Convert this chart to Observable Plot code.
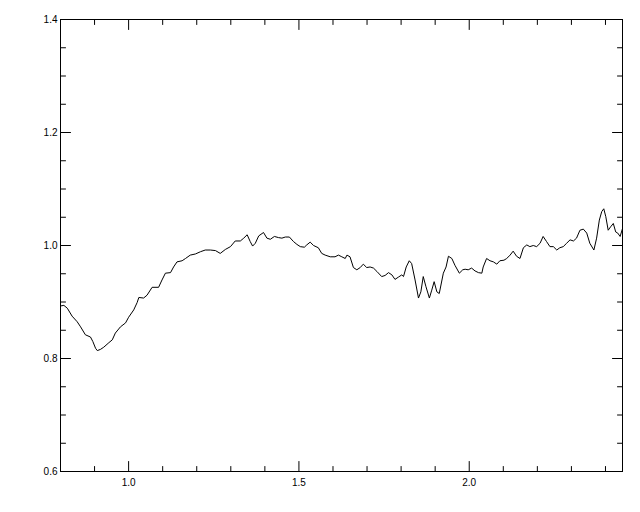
<!DOCTYPE html>
<html>
<head>
<meta charset="utf-8">
<script src="https://cdn.jsdelivr.net/npm/d3@7"></script>
<script src="https://cdn.jsdelivr.net/npm/@observablehq/plot@0.6"></script>
<style>
  html, body { margin: 0; padding: 0; background: #fff; }
  #chart svg { display: block; }
</style>
</head>
<body>
<div id="chart"></div>
<script>
// Wavelength-like x values and ratio y values
const xValues = [
  0.800, 0.810, 0.820, 0.834, 0.849, 0.859, 0.873, 0.888, 0.895, 0.903, 0.908, 0.917, 0.927, 0.942, 0.952, 0.961,
  0.976, 0.991, 1.000, 1.015, 1.025, 1.030, 1.044, 1.054, 1.069, 1.088, 1.098, 1.108, 1.123, 1.132, 1.142, 1.157,
  1.167, 1.181, 1.196, 1.211, 1.225,
  1.240, 1.255, 1.269, 1.284, 1.299, 1.313, 1.328, 1.338, 1.348, 1.357, 1.364, 1.372, 1.382, 1.396, 1.406, 1.416,
  1.428, 1.440, 1.450, 1.460, 1.472, 1.484, 1.494, 1.504, 1.516, 1.523, 1.533, 1.543, 1.557, 1.567, 1.577, 1.592,
  1.606, 1.616, 1.626, 1.636,
  1.641, 1.650, 1.660, 1.670, 1.680, 1.689, 1.699, 1.709, 1.719, 1.729, 1.743, 1.753, 1.763, 1.773, 1.782, 1.792,
  1.802, 1.807, 1.815, 1.824, 1.831, 1.841, 1.851, 1.858, 1.865, 1.873, 1.883, 1.890, 1.897, 1.905, 1.912, 1.924,
  1.932, 1.939, 1.949, 1.958, 1.971, 1.981, 1.988, 1.997, 2.007, 2.017, 2.027, 2.037,
  2.041, 2.051, 2.061, 2.071, 2.081, 2.090, 2.102, 2.110, 2.120, 2.129, 2.139, 2.149, 2.159, 2.169, 2.178, 2.188,
  2.198, 2.208, 2.217, 2.227, 2.237, 2.247, 2.257, 2.266, 2.276, 2.286, 2.296, 2.306, 2.315, 2.325, 2.335, 2.345,
  2.354, 2.366, 2.374, 2.382, 2.389, 2.395, 2.401, 2.408, 2.415, 2.423, 2.430, 2.436, 2.443, 2.450
];
const yValues = [
  0.893, 0.894, 0.889, 0.875, 0.865, 0.856, 0.842, 0.838, 0.830, 0.818, 0.814, 0.816, 0.820, 0.828, 0.833, 0.845,
  0.856, 0.863, 0.873, 0.886, 0.899, 0.908, 0.907, 0.912, 0.926, 0.926, 0.939, 0.951, 0.952, 0.962, 0.971, 0.973,
  0.977, 0.983, 0.985, 0.989, 0.992,
  0.992, 0.991, 0.986, 0.993, 0.998, 1.008, 1.008, 1.013, 1.019, 1.007, 0.999, 1.004, 1.017, 1.023, 1.013, 1.011,
  1.016, 1.014, 1.013, 1.015, 1.015, 1.007, 1.002, 0.998, 0.997, 1.001, 1.006, 1.000, 0.996, 0.986, 0.983, 0.980,
  0.980, 0.983, 0.980, 0.977,
  0.983, 0.980, 0.961, 0.957, 0.961, 0.967, 0.961, 0.962, 0.960, 0.954, 0.945, 0.947, 0.952, 0.948, 0.940, 0.944,
  0.948, 0.945, 0.962, 0.973, 0.968, 0.939, 0.907, 0.918, 0.945, 0.927, 0.907, 0.921, 0.936, 0.918, 0.915, 0.951,
  0.962, 0.981, 0.977, 0.965, 0.951, 0.957, 0.958, 0.957, 0.960, 0.955, 0.952, 0.951,
  0.962, 0.977, 0.973, 0.971, 0.967, 0.973, 0.974, 0.977, 0.983, 0.990, 0.981, 0.977, 0.996, 1.001, 0.998, 1.000,
  0.998, 1.004, 1.016, 1.007, 0.998, 0.998, 0.992, 0.996, 0.998, 1.004, 1.010, 1.008, 1.013, 1.027, 1.029, 1.022,
  1.004, 0.992, 1.013, 1.045, 1.060, 1.065, 1.051, 1.027, 1.033, 1.039, 1.024, 1.022, 1.016, 1.030
];

const xMajorTicks = [1.0, 1.5, 2.0];
const xMinorTicks = [0.9, 1.1, 1.2, 1.3, 1.4, 1.6, 1.7, 1.8, 1.9, 2.1, 2.2, 2.3, 2.4];
const yMajorTicks = [0.6, 0.8, 1.0, 1.2, 1.4];
const yMinorTicks = [0.65, 0.7, 0.75, 0.85, 0.9, 0.95, 1.05, 1.1, 1.15, 1.25, 1.3, 1.35];

const data = xValues.map((x, i) => ({x, y: yValues[i]}));

const tickShape = {draw(context, l) { context.moveTo(0, 0); context.lineTo(0, -l); }};
function ticksX(values, len) {
  return [
    Plot.vector(values, {x: d => d, frameAnchor: "bottom", length: len, rotate: 0, anchor: "start", shape: tickShape, stroke: "black", strokeWidth: 1}),
    Plot.vector(values, {x: d => d, frameAnchor: "top", length: len, rotate: 180, anchor: "start", shape: tickShape, stroke: "black", strokeWidth: 1})
  ];
}
function ticksY(values, len) {
  return [
    Plot.vector(values, {y: d => d, frameAnchor: "left", length: len, rotate: 90, anchor: "start", shape: tickShape, stroke: "black", strokeWidth: 1}),
    Plot.vector(values, {y: d => d, frameAnchor: "right", length: len, rotate: 270, anchor: "start", shape: tickShape, stroke: "black", strokeWidth: 1})
  ];
}

const chart = Plot.plot({
  width: 640,
  height: 512,
  marginLeft: 60,
  marginRight: 18,
  marginTop: 19,
  marginBottom: 41,
  style: {background: "#fff", color: "black", fontFamily: "'Liberation Sans', Arial, sans-serif", fontSize: "10px"},
  x: {domain: [0.8, 2.45]},
  y: {domain: [0.6, 1.4]},
  marks: [
    Plot.axisX(xMajorTicks, {tickSize: 0, tickPadding: 7, tickFormat: d3.format(".1f"), label: null, fontSize: 10}),
    Plot.axisY(yMajorTicks, {tickSize: 0, tickPadding: 3, tickFormat: d3.format(".1f"), label: null, fontSize: 10}),
    ...ticksX(xMajorTicks, 10),
    ...ticksX(xMinorTicks, 5),
    ...ticksY(yMajorTicks, 10),
    ...ticksY(yMinorTicks, 5),
    Plot.line(data, {x: "x", y: "y", stroke: "black", strokeWidth: 1}),
    Plot.frame({stroke: "black", strokeWidth: 1})
  ]
});
document.getElementById("chart").appendChild(chart);
</script>
</body>
</html>
